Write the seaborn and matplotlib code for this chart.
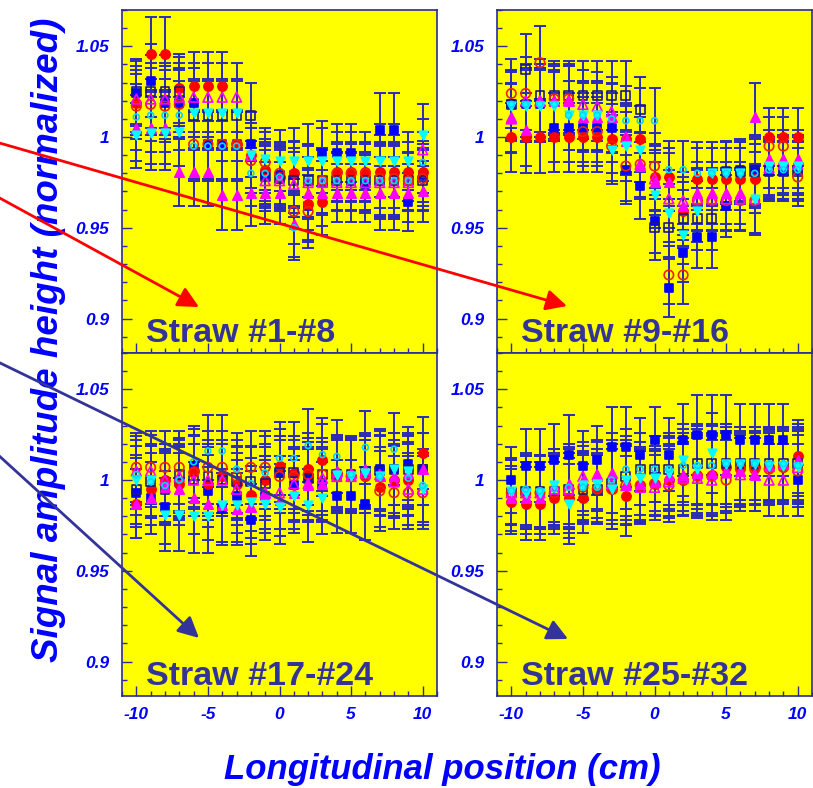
import numpy as np
import pandas as pd
import seaborn as sns
import matplotlib.pyplot as plt
from matplotlib.ticker import MultipleLocator

sns.set_style('ticks')
plt.rcParams['font.family'] = ['Liberation Sans', 'DejaVu Sans']

# longitudinal positions (cm)
pos = [-10, -9, -8, -7, -6, -5, -4, -3, -2, -1, 0, 1, 2, 3, 4, 5, 6, 7, 8, 9, 10]

# ---- Straw #1-#8
a_fs = [1.024, 1.031, 1.019, 1.019, 1.019, 0.996, 0.996, 0.996, 0.996, 0.979, 0.979, 0.979, 0.962, 0.991, 0.991, 0.991, 0.974, 1.004, 1.004, 0.964, 0.979]
a_os = [1.025, 1.025, 1.025, 1.025, 1.012, 1.012, 1.012, 1.012, 1.012, 0.978, 0.977, 0.976, 0.976, 0.976, 0.976, 0.976, 0.976, 0.976, 0.976, 0.976, 0.976]
a_fc = [1.019, 1.046, 1.046, 1.027, 1.028, 1.028, 1.028, 0.996, 0.990, 0.982, 0.978, 0.980, 0.963, 0.964, 0.981, 0.981, 0.981, 0.981, 0.981, 0.981, 0.981]
a_oc = [1.017, 1.018, 1.017, 1.018, 0.996, 0.996, 0.996, 0.996, 0.987, 0.986, 0.980, 0.959, 0.959, 0.976, 0.980, 0.980, 0.980, 0.977, 0.977, 0.976, 0.977]
a_ft = [1.005, 1.005, 1.005, 0.981, 0.981, 0.981, 0.968, 0.968, 0.969, 0.969, 0.969, 0.952, 0.969, 0.969, 0.969, 0.969, 0.969, 0.969, 0.969, 0.969, 0.970]
a_ot = [1.021, 1.021, 1.021, 1.022, 1.022, 1.022, 1.022, 1.022, 0.990, 0.976, 0.976, 0.974, 0.975, 0.975, 0.975, 0.975, 0.975, 0.975, 0.975, 0.975, 0.993]
a_fd = [1.001, 1.002, 1.002, 1.003, 1.013, 1.013, 1.013, 1.013, 0.990, 0.988, 0.987, 0.987, 0.987, 0.987, 0.987, 0.987, 0.987, 0.987, 0.987, 0.987, 1.001]
a_od = [1.011, 1.012, 1.012, 1.012, 0.995, 0.995, 0.995, 0.995, 0.980, 0.980, 0.978, 0.950, 0.976, 0.976, 0.976, 0.976, 0.976, 0.976, 0.976, 0.976, 0.986]
a_err = [0.018, 0.020, 0.020, 0.019, 0.019, 0.019, 0.019, 0.019, 0.018, 0.017, 0.017, 0.018, 0.020, 0.018, 0.016, 0.016, 0.016, 0.020, 0.020, 0.016, 0.017]

# ---- Straw #9-#16
b_fs = [1.018, 1.018, 1.018, 1.005, 1.005, 1.005, 1.005, 1.005, 0.982, 0.973, 0.954, 0.917, 0.936, 0.945, 0.945, 0.962, 0.982, 0.982, 0.982, 0.982, 0.982]
b_os = [1.018, 1.037, 1.023, 1.023, 1.023, 1.023, 1.023, 1.023, 1.023, 1.015, 0.950, 0.950, 0.955, 0.955, 0.955, 0.981, 0.981, 0.981, 0.981, 0.981, 0.981]
b_fc = [1.000, 1.000, 1.000, 1.000, 1.000, 1.000, 1.000, 0.999, 0.999, 0.999, 0.978, 0.978, 0.959, 0.977, 0.977, 0.977, 0.977, 0.977, 1.000, 1.000, 1.000]
b_oc = [1.024, 1.024, 1.041, 1.021, 1.021, 1.003, 1.003, 0.995, 0.984, 0.985, 0.984, 0.924, 0.924, 0.965, 0.965, 0.965, 0.965, 0.965, 0.995, 0.995, 0.978]
b_ft = [1.011, 1.004, 1.020, 1.020, 1.020, 1.011, 1.011, 1.011, 0.998, 0.984, 0.975, 0.975, 0.962, 0.969, 0.969, 0.969, 0.969, 1.011, 0.988, 0.988, 0.988]
b_ot = [1.010, 1.020, 1.020, 1.020, 1.020, 1.018, 1.017, 1.014, 1.000, 0.985, 0.977, 0.966, 0.965, 0.966, 0.966, 0.966, 0.966, 0.966, 0.983, 0.985, 0.985]
b_fd = [1.017, 1.017, 1.017, 1.017, 1.012, 1.012, 1.012, 0.993, 0.995, 0.993, 0.968, 0.958, 0.946, 0.959, 0.980, 0.980, 0.980, 0.966, 0.984, 0.984, 0.984]
b_od = [1.018, 1.018, 1.018, 1.018, 1.012, 1.012, 1.012, 1.010, 1.009, 1.009, 1.009, 0.982, 0.982, 0.980, 0.980, 0.980, 0.980, 0.980, 0.982, 0.982, 0.982]
b_err = [0.019, 0.020, 0.020, 0.019, 0.019, 0.019, 0.019, 0.019, 0.019, 0.018, 0.018, 0.016, 0.016, 0.017, 0.017, 0.017, 0.017, 0.019, 0.016, 0.016, 0.016]

# ---- Straw #17-#24
c_fs = [0.993, 0.990, 0.985, 0.999, 1.008, 0.994, 0.984, 0.991, 0.978, 0.991, 1.004, 0.997, 1.001, 0.997, 0.991, 0.991, 0.987, 1.006, 1.006, 1.009, 1.006]
c_os = [0.995, 0.999, 0.995, 1.003, 1.000, 1.002, 1.000, 0.999, 0.999, 0.998, 1.004, 1.004, 1.001, 1.003, 1.003, 1.003, 1.005, 1.005, 1.006, 1.006, 1.006]
c_fc = [0.987, 0.995, 1.000, 0.998, 1.005, 0.998, 1.002, 0.998, 0.992, 1.000, 1.008, 1.004, 1.006, 1.011, 1.004, 1.002, 1.002, 0.996, 1.000, 1.000, 1.015]
c_oc = [1.007, 1.007, 1.007, 1.007, 1.004, 1.007, 1.007, 1.002, 1.007, 1.007, 1.002, 1.002, 1.003, 1.003, 1.002, 1.002, 1.002, 0.994, 0.993, 0.993, 0.993]
c_ft = [0.987, 0.990, 0.996, 0.995, 0.990, 0.987, 0.986, 0.984, 0.985, 0.993, 0.989, 0.993, 0.997, 0.998, 1.005, 1.004, 1.006, 1.002, 1.002, 1.004, 1.006]
c_ot = [1.005, 1.005, 1.000, 1.002, 1.000, 1.000, 1.000, 0.995, 0.985, 0.993, 0.993, 0.998, 0.998, 1.001, 1.002, 1.002, 1.004, 1.003, 0.999, 0.995, 0.995]
c_fd = [1.000, 1.000, 0.981, 0.981, 0.980, 0.980, 0.986, 0.986, 0.988, 0.987, 0.985, 0.991, 0.986, 0.990, 1.003, 1.002, 1.004, 1.002, 1.006, 1.005, 0.995]
c_od = [1.003, 0.999, 0.997, 1.000, 1.010, 1.016, 1.016, 1.006, 0.998, 1.004, 1.012, 1.012, 1.019, 1.014, 1.013, 1.003, 1.018, 1.002, 1.017, 1.001, 0.997]
c_err = [0.019, 0.020, 0.020, 0.020, 0.020, 0.020, 0.020, 0.020, 0.020, 0.020, 0.020, 0.020, 0.020, 0.020, 0.020, 0.020, 0.020, 0.022, 0.020, 0.020, 0.020]

# ---- Straw #25-#32
d_fs = [1.000, 1.008, 1.008, 1.011, 1.014, 1.008, 1.011, 1.018, 1.018, 1.014, 1.022, 1.014, 1.022, 1.025, 1.025, 1.025, 1.022, 1.022, 1.022, 1.022, 1.000]
d_os = [0.993, 0.994, 0.994, 0.994, 0.995, 0.995, 0.995, 0.998, 1.002, 1.006, 1.006, 1.006, 1.006, 1.009, 1.009, 1.009, 1.009, 1.009, 1.009, 1.009, 1.009]
d_fc = [0.988, 0.987, 0.987, 0.990, 0.990, 0.990, 0.995, 0.995, 0.991, 0.997, 0.998, 1.000, 1.000, 1.003, 1.003, 1.007, 1.007, 1.007, 1.007, 1.007, 1.013]
d_oc = [0.993, 0.993, 0.993, 0.993, 0.993, 0.996, 0.995, 0.995, 0.997, 0.997, 0.998, 0.997, 1.000, 1.002, 1.002, 1.000, 1.006, 1.006, 1.006, 1.007, 1.005]
d_ft = [0.990, 0.990, 0.990, 0.997, 0.998, 1.000, 1.002, 1.004, 0.998, 0.998, 0.999, 1.003, 1.003, 1.004, 1.004, 1.005, 1.005, 1.003, 1.008, 1.009, 1.011]
d_ot = [0.993, 0.993, 0.993, 0.995, 0.995, 1.002, 1.003, 0.998, 0.997, 0.996, 0.996, 0.999, 1.001, 1.001, 1.000, 1.004, 1.003, 1.003, 1.000, 1.000, 1.007]
d_fd = [0.994, 0.993, 0.993, 0.997, 0.987, 0.997, 0.998, 0.995, 1.000, 1.001, 1.001, 1.004, 1.011, 1.006, 1.015, 1.009, 1.009, 1.009, 1.008, 1.008, 1.007]
d_od = [0.994, 0.995, 0.994, 0.995, 0.996, 0.996, 0.996, 1.000, 1.006, 1.006, 1.006, 1.006, 1.008, 1.008, 1.008, 1.009, 1.009, 1.009, 1.009, 1.009, 1.008]
d_err = [0.018, 0.020, 0.020, 0.020, 0.022, 0.019, 0.019, 0.022, 0.022, 0.020, 0.018, 0.020, 0.020, 0.022, 0.022, 0.022, 0.020, 0.020, 0.020, 0.020, 0.020]

titles = ['Straw #1-#8', 'Straw #9-#16', 'Straw #17-#24', 'Straw #25-#32']

# marker style per straw in the group (ROOT-like)
styles = [
    dict(marker='s', fc='#0000ff', ec='#0000ff', s=38),
    dict(marker='o', fc='#ff0000', ec='#ff0000', s=44),
    dict(marker='s', fc='none', ec='#1a1a80', s=40),
    dict(marker='o', fc='none', ec='#ee2200', s=46),
    dict(marker='^', fc='#ff00ff', ec='#ff00ff', s=46),
    dict(marker='^', fc='none', ec='#ff00ff', s=50),
    dict(marker='v', fc='#00ffff', ec='#00ffff', s=38),
    dict(marker='o', fc='none', ec='#00d8ff', s=18),
]

panels = [
    ([a_fs, a_fc, a_os, a_oc, a_ft, a_ot, a_fd, a_od], a_err),
    ([b_fs, b_fc, b_os, b_oc, b_ft, b_ot, b_fd, b_od], b_err),
    ([c_fs, c_fc, c_os, c_oc, c_ft, c_ot, c_fd, c_od], c_err),
    ([d_fs, d_fc, d_os, d_oc, d_ft, d_ot, d_fd, d_od], d_err),
]

W, H = 813, 788
fig = plt.figure(figsize=(W / 100, H / 100), dpi=100)
frame_c = '#2a2a9a'
bar_c = '#2b2bb8'
lab_c = '#0000ff'

rects = [(122, 10), (497, 10), (122, 353), (497, 353)]
pw, ph = 315, 343

for k, ((series, err), (px, py)) in enumerate(zip(panels, rects)):
    ax = fig.add_axes([px / W, 1 - (py + ph) / H, pw / W, ph / H])
    ax.set_facecolor('#ffff00')
    for sp in ax.spines.values():
        sp.set_color(frame_c)
        sp.set_linewidth(1.2)
    for vals, st in zip(series, styles):
        ax.errorbar(pos, vals, yerr=err, fmt='none', ecolor=bar_c,
                    elinewidth=1.4, capsize=4.3, capthick=1.4, zorder=2)
        df = pd.DataFrame({'x': pos, 'y': vals})
        sns.scatterplot(data=df, x='x', y='y', ax=ax, marker=st['marker'],
                        s=st['s'], facecolors=st['fc'], edgecolors=st['ec'],
                        linewidth=1.2, zorder=3, legend=False)
    ax.set_xlim(-11, 11)
    ax.set_ylim(0.881, 1.070)
    ax.set_xlabel('')
    ax.set_ylabel('')
    ax.set_yticks([0.9, 0.95, 1.0, 1.05])
    ax.set_yticklabels(['0.9', '0.95', '1', '1.05'])
    ax.yaxis.set_minor_locator(MultipleLocator(0.01))
    ax.set_xticks([-10, -5, 0, 5, 10])
    ax.set_xticklabels(['-10', '-5', '0', '5', '10'])
    ax.xaxis.set_minor_locator(MultipleLocator(1))
    ax.tick_params(which='both', direction='in', color=frame_c,
                   labelcolor=lab_c, labelsize=12.5, top=False, right=False)
    ax.tick_params(which='major', length=7, width=1)
    ax.tick_params(which='minor', length=3.5, width=1)
    ax.tick_params(axis='y', pad=9)
    ax.tick_params(axis='x', pad=8)
    if k < 2:
        ax.tick_params(labelbottom=False)
    for lbl in ax.get_xticklabels() + ax.get_yticklabels():
        lbl.set_fontstyle('italic')
        lbl.set_fontweight('bold')
    ax.text(0.075, 0.032, titles[k], transform=ax.transAxes, ha='left',
            va='baseline', fontsize=24.5, fontweight='bold', color='#333399',
            zorder=5)

fig.text(49 / W, 1 - 340 / H, 'Signal amplitude height (normalized)',
         rotation=90, ha='center', va='center', fontsize=26.5,
         fontweight='bold', fontstyle='italic', color=lab_c)
fig.text(442 / W, 1 - 769 / H, 'Longitudinal position (cm)', ha='center',
         va='center', fontsize=25, fontweight='bold', fontstyle='italic',
         color=lab_c)

# annotation arrows pointing at the straw groups
ov = fig.add_axes([0, 0, 1, 1], zorder=10)
ov.set_xlim(0, W)
ov.set_ylim(H, 0)
ov.axis('off')
ov.patch.set_alpha(0)
arrows = [
    ((-4, 142), (567, 306), '#ff0000'),
    ((-4, 196), (199, 307), '#ff0000'),
    ((-4, 361), (568, 639), '#333399'),
    ((-4, 453), (199, 638), '#333399'),
]
for start, end, c in arrows:
    ov.annotate('', xy=end, xytext=start,
                arrowprops=dict(arrowstyle='-|>,head_length=0.9,head_width=0.45',
                                color=c, lw=2, mutation_scale=14,
                                shrinkA=0, shrinkB=0))

fig.savefig('out.png', dpi=100)
